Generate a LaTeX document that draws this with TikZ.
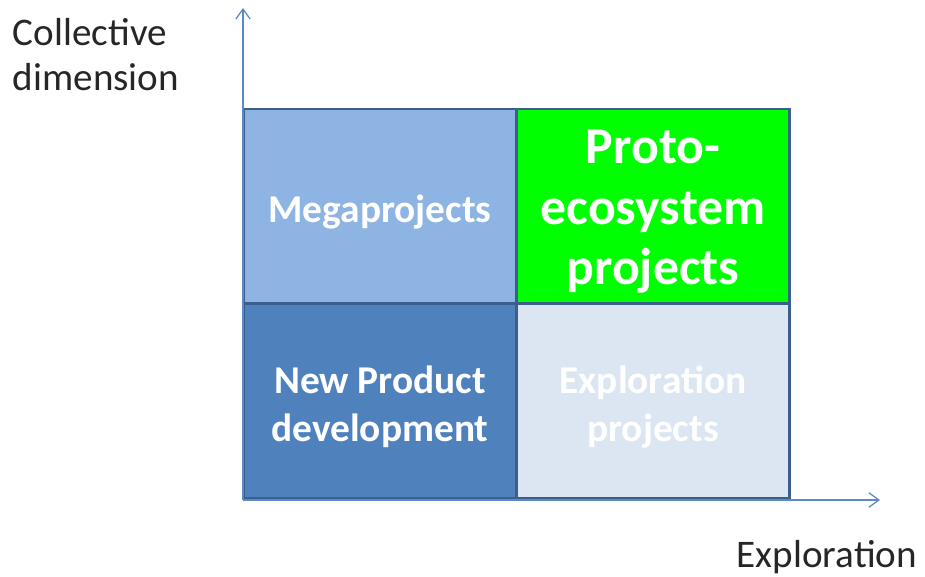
\documentclass[tikz,border=0pt]{standalone}
\usepackage{fontspec}
\setmainfont{Carlito}
\usetikzlibrary{positioning,arrows.meta}

\definecolor{cellLine}{HTML}{3B5F8C}
\definecolor{axisBlue}{HTML}{5B8AC6}
\definecolor{megaFill}{HTML}{8EB4E3}
\definecolor{npdFill}{HTML}{4F81BD}
\definecolor{exploFill}{HTML}{DCE6F2}
\definecolor{protoFill}{HTML}{00FF00}

\begin{document}
\begin{tikzpicture}[
  x=0.025cm,y=-0.025cm,
  axis/.style={-{Straight Barb[length=2.5mm,width=3.6mm]},axisBlue,line width=0.9pt},
  cell/.style={rectangle,draw=cellLine,line width=2pt,minimum width=273*0.025cm,
               minimum height=194*0.025cm},
  celltext/.style={align=center,text=white,inner sep=0pt,
               font=\fontsize{28}{34}\selectfont\bfseries},
  bigtext/.style={celltext,font=\fontsize{36.8}{43}\selectfont\bfseries},
  axlabel/.style={font=\fontsize{27.8}{32}\selectfont,text=black!85}
]
  \useasboundingbox (0,0) rectangle (925,577);

  % ---------- Cuadrantes ----------
  \node[cell,fill=megaFill]  (mega)  at (380,206) {};
  \node[cell,fill=protoFill] (proto) at (653,206) {};
  \node[cell,fill=npdFill]   (npd)   at (380,401) {};
  \node[cell,fill=exploFill] (explo) at (653,401) {};

  % textos de los cuadrantes
  \node[celltext] (megatext)  at ([yshift=-0.15cm]mega.center)  {Megaprojects};
  \node[bigtext]  (prototext) at ([yshift=-0.15cm]proto.center) {Proto-\\ecosystem\\projects};
  \node[celltext] (npdtext)   at ([yshift=-0.15cm]npd.center)   {New Product\\development};
  \node[celltext] (explotext) at ([yshift=-0.15cm]explo.center) {Exploration\\projects};

  % ---------- Ejes ----------
  \coordinate (origin) at (243,500);
  \coordinate (ytip)   at (243,8);
  \coordinate (xtip)   at (880,500);
  \draw[axis] (origin) -- (ytip);
  \draw[axis] (origin) -- (xtip);

  % etiquetas de los ejes
  \node[axlabel,anchor=west,align=left] (ylab) at (8,55) {Collective\\dimension};
  \node[axlabel,anchor=east] (xlab) at (922,557) {Exploration};
\end{tikzpicture}
\end{document}
